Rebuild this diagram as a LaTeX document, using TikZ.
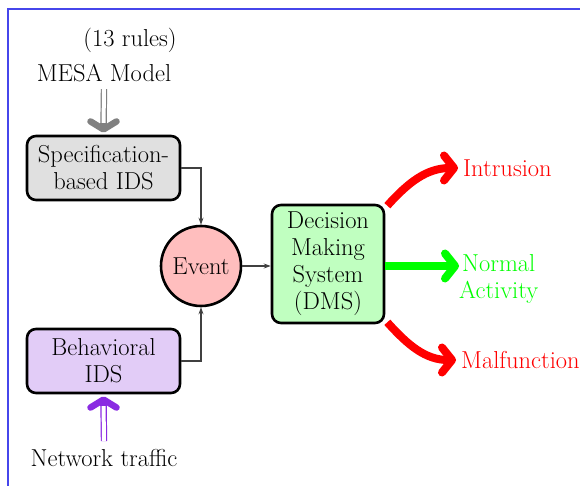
\documentclass[tikz,border=0pt]{standalone}
\usetikzlibrary{arrows.meta,calc}
\definecolor{frameblue}{RGB}{70,70,235}
\definecolor{bviolet}{RGB}{138,43,226}
\definecolor{specfill}{RGB}{224,224,224}
\definecolor{eventfill}{RGB}{255,190,190}
\definecolor{dmsfill}{RGB}{192,255,192}
\definecolor{behfill}{RGB}{226,204,247}
\begin{document}
\begin{tikzpicture}[x=1pt,y=-1pt,
  every node/.style={font=\fontsize{24.5}{27}\selectfont},
  box/.style={draw=black,line width=2.6pt,rounded corners=9pt,align=center,inner sep=0pt},
  thin/.style={draw=black!75,line width=1.1pt,-{Stealth[length=7pt,width=5pt]}},
  fat/.style={line width=8pt,-{Straight Barb[round,length=10pt,width=25pt]}},
  dbl/.style={double,double distance=4pt,line width=1.2pt},
  dbltip/.style={line width=6.5pt,-{Straight Barb[round,length=8pt,width=26pt]}},
  lbl/.style={inner sep=0pt,align=center}]
\useasboundingbox (0,0) rectangle (580,486);
\draw[frameblue,line width=1.8pt] (8,486) -- (8,9) -- (580,9);
% nodes
\node[lbl] (rules) at (130,40) {(13 rules)};
\node[lbl] (mesa) at (104,73) {MESA Model};
\node[box,fill=specfill,minimum width=153pt,minimum height=64pt] (spec) at (103.5,168) {Specification-\\based IDS};
\node[box,fill=behfill,minimum width=153pt,minimum height=64pt] (beh) at (103.5,361) {Behavioral\\IDS};
\node[lbl] (net) at (104,458) {Network traffic};
\node[draw=black,line width=2.6pt,circle,fill=eventfill,minimum size=80pt,inner sep=0pt] (event) at (201,266) {Event};
\node[box,fill=dmsfill,minimum width=112pt,minimum height=118pt] (dms) at (328,264) {Decision\\Making\\System\\(DMS)};
\node[lbl,text=red,anchor=west] (intr) at (463,168) {Intrusion};
\node[lbl,text=green,anchor=west] (norm) at (459,279) {Normal\\Activity};
\node[lbl,text=red,anchor=west] (malf) at (461,360) {Malfunction};
% connectors
\path (mesa.south) ++(0,7) coordinate (mtop);
\path (net.north) ++(0,-8) coordinate (nbot);
\draw[dbl,gray] (mtop) -- ($(spec.north)+(0,-8)$);
\draw[dbltip,gray] ($(spec.north)+(0,-12)$) -- ([yshift=2pt]spec.north);
\draw[dbl,bviolet] (nbot) -- ($(beh.south)+(0,8)$);
\draw[dbltip,bviolet] ($(beh.south)+(0,12)$) -- ([yshift=-2pt]beh.south);
\draw[thin] (spec.east) -| (event.north);
\draw[thin] (beh.east) -| (event.south);
\draw[thin] (event.east) -- (event.east -| dms.west);
\draw[fat,green] (dms.east |- event.east) -- (event.east -| norm.west);
\draw[fat,red] ([xshift=2pt,yshift=-2pt]dms.north east) to[out=48,in=180] ([xshift=-5pt]intr.west);
\draw[fat,red] ([xshift=2pt,yshift=2pt]dms.south east) to[out=-48,in=180] ([xshift=-5pt]malf.west);
\end{tikzpicture}
\end{document}
